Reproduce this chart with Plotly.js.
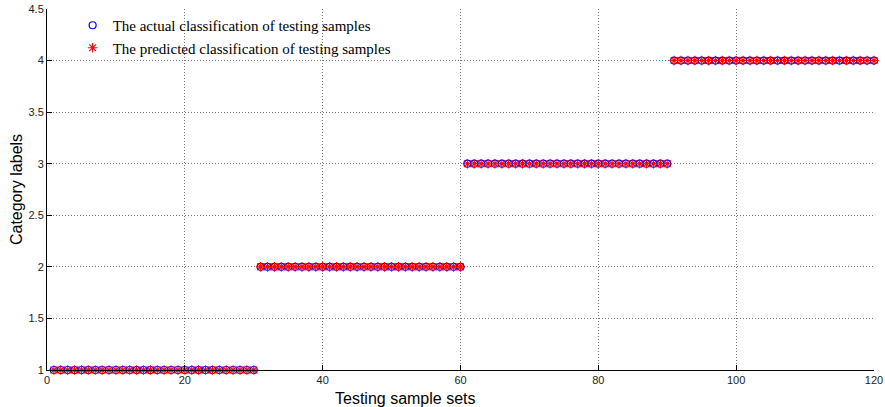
<!DOCTYPE html>
<html>
<head>
<meta charset="utf-8">
<script src="https://cdn.plot.ly/plotly-3.0.1.min.js"></script>
<style>html,body{margin:0;padding:0;background:#fff;}#chart{width:885px;height:407px;}</style>
</head>
<body>
<div id="chart"></div>
<script>
const sampleIndex = [
  1,2,3,4,5,6,7,8,9,10,11,12,13,14,15,16,17,18,19,20,21,22,23,24,25,26,27,28,29,30,
  31,32,33,34,35,36,37,38,39,40,41,42,43,44,45,46,47,48,49,50,51,52,53,54,55,56,57,58,59,60,
  61,62,63,64,65,66,67,68,69,70,71,72,73,74,75,76,77,78,79,80,81,82,83,84,85,86,87,88,89,90,
  91,92,93,94,95,96,97,98,99,100,101,102,103,104,105,106,107,108,109,110,111,112,113,114,115,116,117,118,119,120
];
const actualLabels = [
  1,1,1,1,1,1,1,1,1,1,1,1,1,1,1,1,1,1,1,1,1,1,1,1,1,1,1,1,1,1,
  2,2,2,2,2,2,2,2,2,2,2,2,2,2,2,2,2,2,2,2,2,2,2,2,2,2,2,2,2,2,
  3,3,3,3,3,3,3,3,3,3,3,3,3,3,3,3,3,3,3,3,3,3,3,3,3,3,3,3,3,3,
  4,4,4,4,4,4,4,4,4,4,4,4,4,4,4,4,4,4,4,4,4,4,4,4,4,4,4,4,4,4
];
const predictedLabels = [
  1,1,1,1,1,1,1,1,1,1,1,1,1,1,1,1,1,1,1,1,1,1,1,1,1,1,1,1,1,1,
  2,2,2,2,2,2,2,2,2,2,2,2,2,2,2,2,2,2,2,2,2,2,2,2,2,2,2,2,2,2,
  3,3,3,3,3,3,3,3,3,3,3,3,3,3,3,3,3,3,3,3,3,3,3,3,3,3,3,3,3,3,
  4,4,4,4,4,4,4,4,4,4,4,4,4,4,4,4,4,4,4,4,4,4,4,4,4,4,4,4,4,4
];
const xTicks = [0,20,40,60,80,100,120];
const yTicks = [1,1.5,2,2.5,3,3.5,4,4.5];

const traces = [
  {
    x: sampleIndex, y: actualLabels, type: 'scatter', mode: 'markers',
    name: 'The actual classification of testing samples',
    marker: {symbol: 'circle-open', size: 7, color: '#0000ff', line: {color: '#0000ff', width: 1.2}},
    cliponaxis: false
  },
  {
    x: sampleIndex, y: predictedLabels, type: 'scatter', mode: 'markers',
    name: 'The predicted classification of testing samples',
    marker: {symbol: 'asterisk-open', size: 8, color: '#ff0000', line: {color: '#ff0000', width: 1.1}},
    cliponaxis: false
  }
];

const layout = {
  width: 885, height: 407,
  margin: {l: 47, r: 11, t: 9, b: 37},
  paper_bgcolor: '#ffffff', plot_bgcolor: '#ffffff',
  font: {family: 'Arial, "Liberation Sans", sans-serif', size: 11, color: '#222'},
  showlegend: true,
  legend: {
    x: 0.031, y: 1, xanchor: 'left', yanchor: 'top',
    bgcolor: 'rgba(0,0,0,0)', borderwidth: 0, tracegroupgap: 0,
    font: {family: '"Times New Roman", "Liberation Serif", serif', size: 15, color: '#000'}
  },
  xaxis: {
    range: [0, 120], tickvals: xTicks, ticktext: xTicks.map(String),
    ticks: 'inside', ticklen: 5, tickcolor: '#000',
    showline: true, linecolor: '#000', linewidth: 1, mirror: false,
    showgrid: true, gridcolor: '#777', griddash: '1px,2px', gridwidth: 1,
    zeroline: false, tickfont: {size: 11, color: '#222'}
  },
  yaxis: {
    range: [1, 4.5], tickvals: yTicks, ticktext: yTicks.map(String),
    ticks: 'inside', ticklen: 5, tickcolor: '#000',
    showline: true, linecolor: '#000', linewidth: 1, mirror: false,
    showgrid: true, gridcolor: '#777', griddash: '1px,2px', gridwidth: 1,
    zeroline: false, tickfont: {size: 11, color: '#222'},
    title: {text: 'Category labels', font: {size: 16, color: '#000'}, standoff: 1}
  },
  annotations: [
    {text: 'Testing sample sets', xref: 'paper', yref: 'paper', x: 0.434, y: 0,
     yshift: -28, xanchor: 'center', yanchor: 'middle', showarrow: false,
     font: {size: 16, color: '#000'}}
  ]
};

Plotly.newPlot('chart', traces, layout, {displayModeBar: false, staticPlot: true});
</script>
</body>
</html>
